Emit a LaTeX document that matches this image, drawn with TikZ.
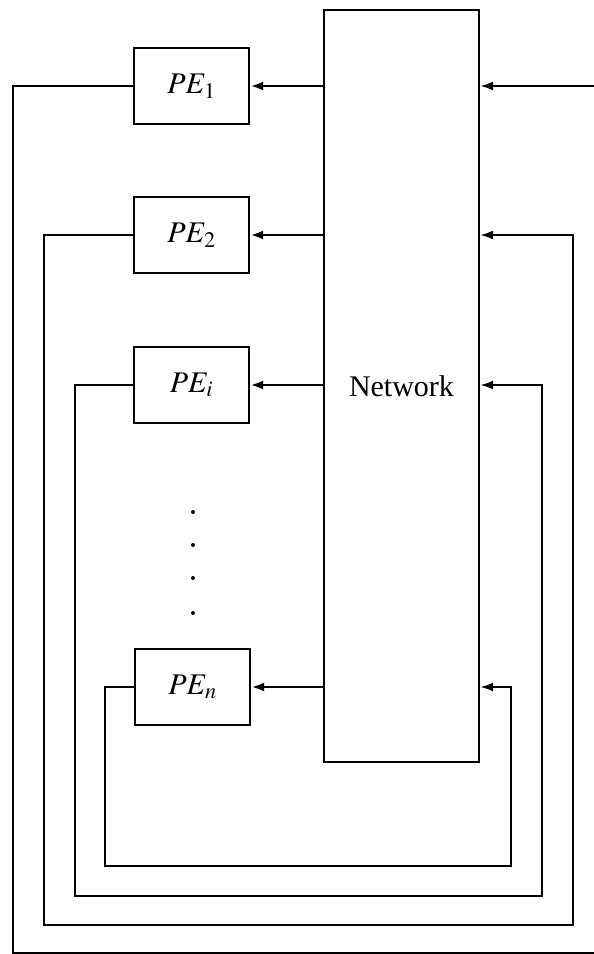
\documentclass[tikz,border=0pt]{standalone}
\usepackage{mathptmx}
\usepackage[no-math]{fontspec}
\setmainfont{Liberation Serif}
\usepackage{tikz}
\usetikzlibrary{arrows.meta, positioning}

\begin{document}
\begin{tikzpicture}[
    x=1pt, y=-1pt,
    pe/.style={draw,line width=2.4pt,minimum width=115pt,minimum height=76pt,
      inner sep=0pt,font=\fontsize{30}{36}\selectfont},
    net/.style={draw,line width=2.2pt,minimum width=155pt,minimum height=752pt,
      inner sep=0pt,font=\fontsize{30}{36}\selectfont},
    arrow/.style={-{Latex[length=13pt,width=9pt]},line width=2.6pt},
    loop/.style={-{Latex[length=13pt,width=9pt]},line width=2.2pt},
    >=Latex
  ]
  \useasboundingbox (0,0) rectangle (594,954);

  % Network
  \node[net] (net) at (401.5,386) {Network};

  % Processing elements
  \node[pe] (pe1) at (191.5,86) {$PE_1$};
  \node[pe] (pe2) at (191.5,235) {$PE_2$};
  \node[pe] (pei) at (191.5,385) {$PE_i$};
  \node[pe] (pen) at (192.5,687) {$PE_n$};

  \fill (193,512) circle (2pt);
  \fill (193,545) circle (2pt);
  \fill (193,578) circle (2pt);
  \fill (193,613) circle (2pt);

  % Network to PEs
  \draw[arrow] (net.west |- pe1.east) -- (pe1.east);
  \draw[arrow] (net.west |- pe2.east) -- (pe2.east);
  \draw[arrow] (net.west |- pei.east) -- (pei.east);
  \draw[arrow] (net.west |- pen.east) -- (pen.east);

  % PEs back to network
  \draw[loop] (pe1.west) -| (13,953) -- (610,953) |- (net.east |- pe1.east);
  \draw[loop] (pe2.west) -| (44,925) -- (573,925) |- (net.east |- pe2.east);
  \draw[loop] (pei.west) -| (75,896) -- (542,896) |- (net.east |- pei.east);
  \draw[loop] (pen.west) -| (105,866) -- (511,866) |- (net.east |- pen.east);
\end{tikzpicture}
\end{document}
